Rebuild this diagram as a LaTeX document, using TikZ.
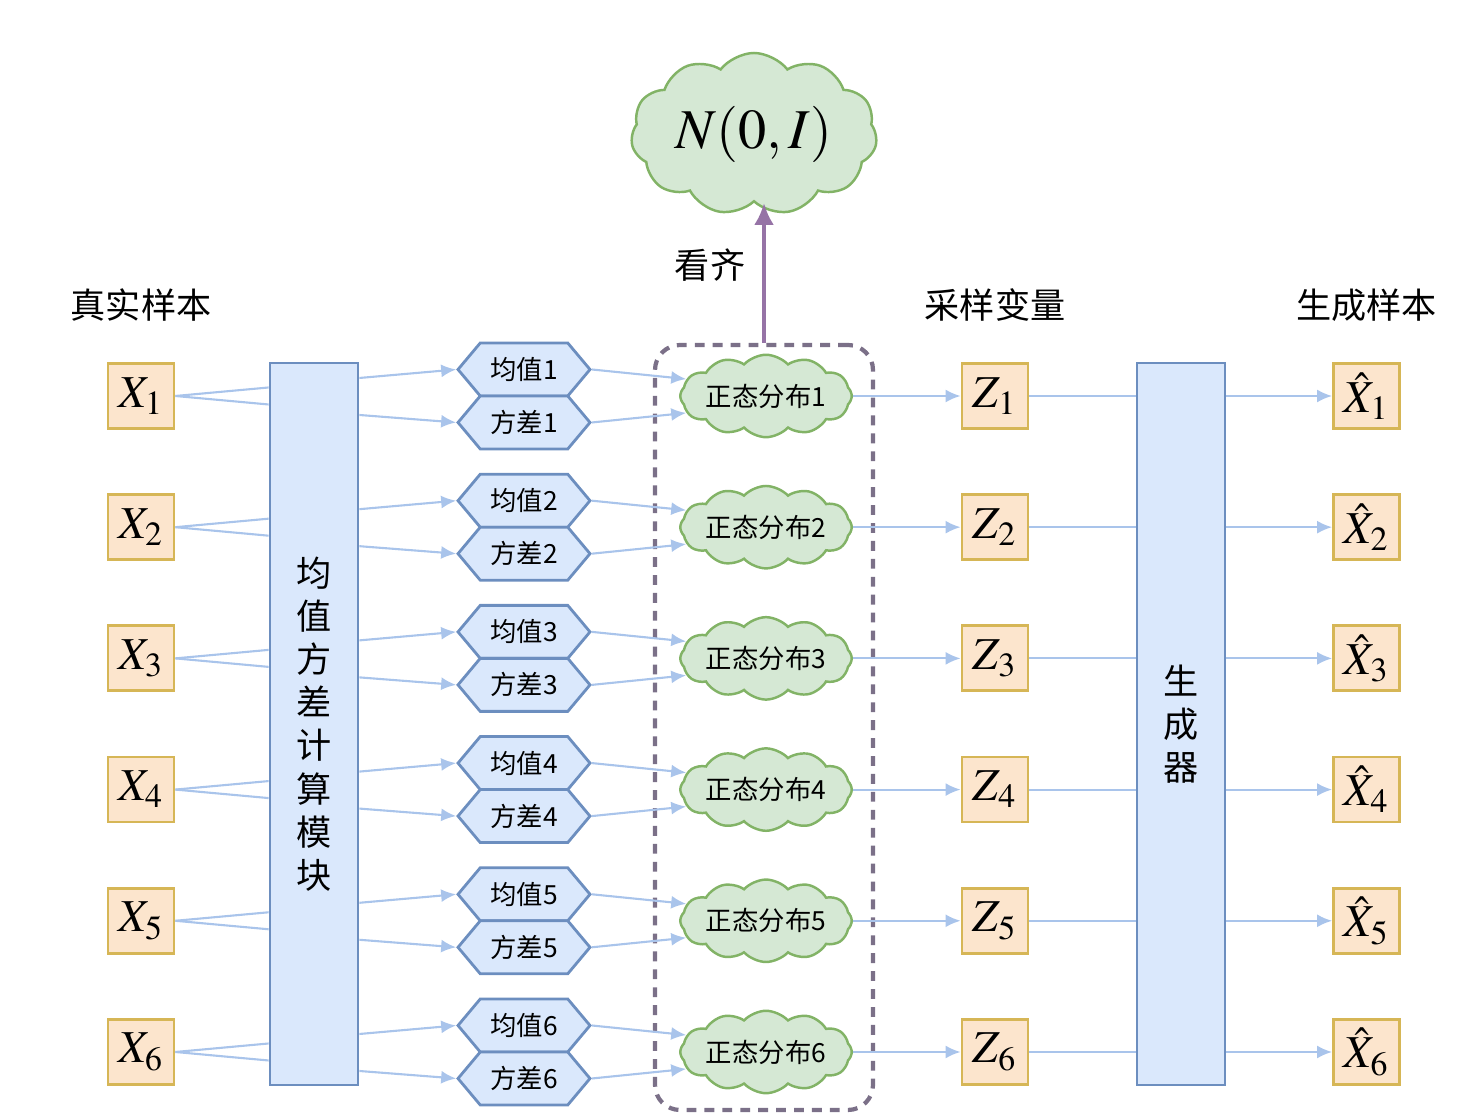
\documentclass[tikz,border=0pt]{standalone}
\usepackage{mathptmx}
\usepackage{fontspec}
\newfontfamily\cjk{Noto Sans CJK SC}
\usetikzlibrary{arrows.meta,positioning,shapes.symbols,calc}
\definecolor{samplefill}{HTML}{FCE5CD}
\definecolor{sampleline}{HTML}{D6B656}
\definecolor{bluefill}{HTML}{DAE8FC}
\definecolor{blueline}{HTML}{6C8EBF}
\definecolor{greenfill}{HTML}{D5E8D4}
\definecolor{greenline}{HTML}{82B366}
\definecolor{flowblue}{HTML}{A9C4EB}
\definecolor{alignpurple}{HTML}{9673A6}
\definecolor{groupgray}{HTML}{7B7088}
\tikzset{
  sample/.style={draw=sampleline, fill=samplefill, line width=0.8pt, minimum width=0.66cm,
    minimum height=0.65cm, inner sep=0pt, font=\fontsize{13}{15}\selectfont},
  tallbox/.style={draw=blueline, fill=bluefill, line width=0.8pt, minimum width=0.88cm,
    minimum height=7.22cm, inner sep=0pt, align=center, font=\cjk\fontsize{10}{12.3}\selectfont},
  hexbox/.style={shape=signal, signal to=east and west, signal pointer angle=100,
    draw=blueline, fill=bluefill, line width=0.8pt, minimum width=1.32cm, minimum height=0.53cm,
    inner sep=0pt, font=\cjk\fontsize{7.5}{9}\selectfont},
  normcloud/.style={shape=cloud, cloud puffs=12, cloud puff arc=95, aspect=2.6,
    draw=greenline, fill=greenfill, line width=0.7pt, minimum width=1.64cm, minimum height=0.8cm,
    inner sep=0pt, font=\cjk\fontsize{7.5}{9}\selectfont},
  head/.style={inner sep=0pt, font=\cjk\fontsize{10}{12}\selectfont},
  flow/.style={draw=flowblue, line width=0.6pt},
  flowarrow/.style={flow, -{Latex[length=1.5mm,width=1.3mm]}},
}
\begin{document}
\begin{tikzpicture}
  \useasboundingbox (0,0) rectangle (14.64,11.18);
  % modules
  \node[tallbox] (calc) at (3.14,3.94) {均\\值\\方\\差\\计\\算\\模\\块};
  \node[tallbox] (gen) at (11.81,3.94) {生\\成\\器};
  % dashed group round the distributions
  \node[draw=groupgray, line width=1.2pt, dash pattern=on 2.8pt off 2.3pt, rounded corners=0.25cm,
    minimum width=2.18cm, minimum height=7.65cm] (grp) at (7.64,3.905) {};
  % rows
  \foreach \i in {1,...,6}{
    \pgfmathsetmacro{\yy}{7.22-1.312*(\i-1)}
    \node[sample] (x\i) at (1.41,\yy) {$X_{\i}$};
    \node[hexbox] (mu\i) at (5.24,\yy+0.265) {均值\i};
    \node[hexbox] (var\i) at (5.24,\yy-0.265) {方差\i};
    \node[normcloud] (nd\i) at (7.66,\yy) {正态分布\i};
    \node[sample] (z\i) at (9.95,\yy) {$Z_{\i}$};
    \node[sample] (xh\i) at (13.665,\yy) {$\hat{X}_{\i}$};
  }
  % headers
  \node[head, above=0.4cm of x1] (h1) {真实样本};
  \node[head, above=0.4cm of z1] (h2) {采样变量};
  \node[head, above=0.4cm of xh1] (h3) {生成样本};
  % prior
  \node[shape=cloud, cloud puffs=11, cloud puff arc=105, aspect=1.7, draw=greenline, fill=greenfill,
    line width=0.7pt, minimum width=2.46cm, minimum height=1.62cm, inner sep=0pt,
    font=\fontsize{16}{18}\selectfont] (norm) at (7.54,9.84) {$N(0,I)$};
  \draw[draw=alignpurple, line width=1.2pt, -{Latex[length=2.2mm,width=2mm]}]
    (grp.north) -- (grp.north |- norm.south);
  \node[head] (lab) at (7.10,8.53) {看齐};
  % connectors
  \foreach \i in {1,...,6}{
    \draw[flow] (x\i.east) -- ($(calc.west |- x\i)+(0,0.085)$);
    \draw[flow] (x\i.east) -- ($(calc.west |- x\i)+(0,-0.085)$);
    \draw[flowarrow] ($(calc.east |- x\i)+(0,0.18)$) -- (mu\i.west);
    \draw[flowarrow] ($(calc.east |- x\i)+(0,-0.19)$) -- (var\i.west);
    \draw[flowarrow] (mu\i.east) -- (nd\i.168);
    \draw[flowarrow] (var\i.east) -- (nd\i.192);
    \draw[flowarrow] (nd\i.east) -- (z\i.west);
    \draw[flow] (z\i.east) -- (z\i -| gen.west);
    \draw[flowarrow] (xh\i -| gen.east) -- (xh\i.west);
  }
\end{tikzpicture}
\end{document}
